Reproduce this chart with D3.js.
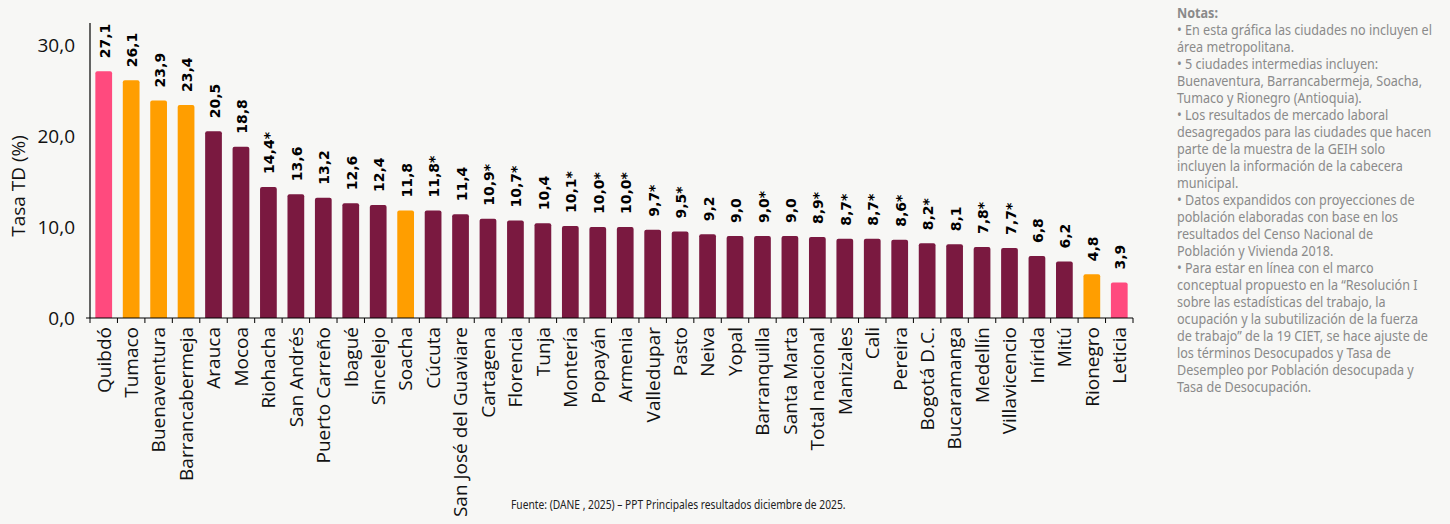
<!DOCTYPE html>
<html>
<head>
<meta charset="utf-8">
<script src="https://cdn.jsdelivr.net/npm/d3@7/dist/d3.min.js"></script>
<style>
  html, body { margin: 0; padding: 0; background: #F7F7F5; }
  svg { display: block; }
</style>
</head>
<body>
<svg id="chart" width="1450" height="524"></svg>
<script>
// ---- Data ----
const categories = ["Quibdó","Tumaco","Buenaventura","Barrancabermeja","Arauca","Mocoa","Riohacha","San Andrés","Puerto Carreño","Ibagué","Sincelejo","Soacha","Cúcuta","San José del Guaviare","Cartagena","Florencia","Tunja","Montería","Popayán","Armenia","Valledupar","Pasto","Neiva","Yopal","Barranquilla","Santa Marta","Total nacional","Manizales","Cali","Pereira","Bogotá D.C.","Bucaramanga","Medellín","Villavicencio","Inírida","Mitú","Rionegro","Leticia"];
const values = [27.1,26.1,23.9,23.4,20.5,18.8,14.4,13.6,13.2,12.6,12.4,11.8,11.8,11.4,10.9,10.7,10.4,10.1,10.0,10.0,9.7,9.5,9.2,9.0,9.0,9.0,8.9,8.7,8.7,8.6,8.2,8.1,7.8,7.7,6.8,6.2,4.8,3.9];
const starred = [0,0,0,0,0,0,1,0,0,0,0,0,1,0,1,1,0,1,1,1,1,1,0,0,1,0,1,1,1,1,1,0,1,1,0,0,0,0];
// group: "max" (extremes), "inter" (ciudades intermedias), "main"
const groups = ["max","inter","inter","inter","main","main","main","main","main","main","main","inter","main","main","main","main","main","main","main","main","main","main","main","main","main","main","main","main","main","main","main","main","main","main","main","main","inter","max"];
const yTicks = [0, 10, 20, 30];
const yTitle = "Tasa TD (%)";
const sourceText = "Fuente: (DANE , 2025) – PPT Principales resultados diciembre de 2025.";
const notesTitle = "Notas:";
const notesLines = [
  "• En esta gráfica las ciudades no incluyen el",
  "área metropolitana.",
  "• 5 ciudades intermedias incluyen:",
  "Buenaventura, Barrancabermeja, Soacha,",
  "Tumaco y Rionegro (Antioquia).",
  "• Los resultados de mercado laboral",
  "desagregados para las ciudades que hacen",
  "parte de la muestra de la GEIH solo",
  "incluyen la información de la cabecera",
  "municipal.",
  "• Datos expandidos con proyecciones de",
  "población elaboradas con base en los",
  "resultados del Censo Nacional de",
  "Población y Vivienda 2018.",
  "• Para estar en línea con el marco",
  "conceptual propuesto en la “Resolución I",
  "sobre las estadísticas del trabajo, la",
  "ocupación y la subutilización de la fuerza",
  "de trabajo” de la 19 CIET, se hace ajuste de",
  "los términos Desocupados y Tasa de",
  "Desempleo por Población desocupada y",
  "Tasa de Desocupación."
];

// ---- Styling ----
const colorMap = { max: "#FF4A7E", inter: "#FF9E00", main: "#7A1940" };
const svg = d3.select("#chart");
const m = { left: 90, right: 1133, top: 23, bottom: 318 };

const locale = d3.formatLocale({ decimal: ",", thousands: ".", grouping: [3], currency: ["$", ""] });
const fmt = locale.format(".1f");

const x = d3.scaleBand().domain(categories).range([m.left, m.right]).paddingInner(0.39).paddingOuter(0.195);
const y = d3.scaleLinear().domain([0, 32.4]).range([m.bottom, m.top]);

const data = categories.map((c, i) => ({ c, v: values[i], s: starred[i], g: groups[i] }));

// Bars
svg.append("g").selectAll("path").data(data).join("path")
  .attr("fill", d => colorMap[d.g])
  .attr("d", d => {
    const x0 = x(d.c), w = x.bandwidth(), y0 = y(d.v), yb = y(0), r = 2;
    return `M${x0},${yb}V${y0 + r}Q${x0},${y0} ${x0 + r},${y0}H${x0 + w - r}Q${x0 + w},${y0} ${x0 + w},${y0 + r}V${yb}Z`;
  });

// Value labels
svg.append("g").selectAll("text").data(data).join("text")
  .attr("transform", d => `translate(${x(d.c) + x.bandwidth() / 2 + 1},${y(d.v) - 13}) rotate(-90)`)
  .attr("dy", "0.36em")
  .attr("text-anchor", "start")
  .attr("font-family", "DejaVu Sans")
  .attr("font-weight", "bold")
  .attr("font-size", 14)
  .attr("fill", "#000")
  .text(d => fmt(d.v) + (d.s ? "*" : ""));

// X axis
const xAxisG = svg.append("g");
xAxisG.append("line").attr("x1", m.left - 4).attr("x2", m.right).attr("y1", m.bottom).attr("y2", m.bottom)
  .attr("stroke", "#000").attr("stroke-width", 1.2);
const bounds = categories.map(c => x(c) - x.step() * x.paddingInner() / 2).concat([m.right]);
xAxisG.selectAll("line.tk").data(bounds).join("line").attr("class", "tk")
  .attr("x1", d => d).attr("x2", d => d).attr("y1", m.bottom).attr("y2", m.bottom + 5)
  .attr("stroke", "#000").attr("stroke-width", 1);
xAxisG.selectAll("text").data(categories).join("text")
  .attr("transform", d => `translate(${x(d) + x.bandwidth() / 2},${m.bottom + 9}) rotate(-90)`)
  .attr("dy", "0.36em")
  .attr("text-anchor", "end")
  .attr("font-family", "Open Sans")
  .attr("font-size", 19)
  .attr("fill", "#111")
  .text(d => d);

// Y axis
const yAxisG = svg.append("g");
yAxisG.append("line").attr("x1", m.left).attr("x2", m.left).attr("y1", m.top).attr("y2", m.bottom)
  .attr("stroke", "#000").attr("stroke-width", 1.2);
yAxisG.selectAll("text").data(yTicks).join("text")
  .attr("x", 75).attr("y", d => y(d)).attr("dy", "0.35em")
  .attr("text-anchor", "end")
  .attr("font-family", "Open Sans")
  .attr("font-size", 19)
  .attr("fill", "#111")
  .text(d => fmt(d));
svg.append("text")
  .attr("transform", `translate(18,186) rotate(-90)`)
  .attr("dy", "0.35em")
  .attr("text-anchor", "middle")
  .attr("font-family", "Open Sans")
  .attr("font-size", 19)
  .attr("fill", "#111")
  .text(yTitle);

// Source
svg.append("g").attr("transform", "translate(511,504) scale(0.76,1)")
  .append("text")
  .attr("dy", "0.35em")
  .attr("font-family", "Noto Sans")
  .attr("font-size", 13.5)
  .attr("fill", "#222")
  .text(sourceText);

// Notes
const notes = svg.append("g").attr("transform", "translate(1177,0) scale(0.9,1)");
notes.append("text").attr("x", 0).attr("y", 18)
  .attr("font-family", "Noto Sans").attr("font-weight", "bold").attr("font-size", 14)
  .attr("fill", "#8A8A8A").text(notesTitle);
notes.selectAll("text.ln").data(notesLines).join("text").attr("class", "ln")
  .attr("x", 0).attr("y", (d, i) => 35 + i * 17)
  .attr("font-family", "Noto Sans").attr("font-size", 14)
  .attr("fill", "#8A8A8A").text(d => d);
</script>
</body>
</html>
